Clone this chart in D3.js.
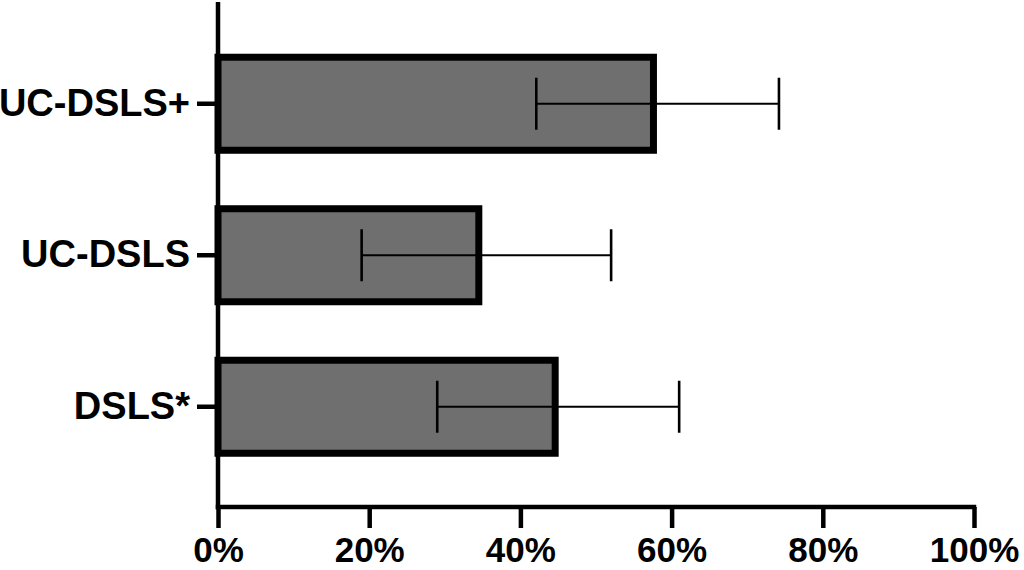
<!DOCTYPE html>
<html><head><meta charset="utf-8">
<script src="https://cdn.jsdelivr.net/npm/d3@7"></script>
<style>
body{margin:0;background:#fff;}
svg{display:block;}
</style></head>
<body>
<svg id="chart" width="1024" height="570"></svg>
<script>
const categories = ["UC-DSLS+", "UC-DSLS", "DSLS*"];
const values = [57.6, 34.5, 44.6];
const errLow = [42.1, 19.0, 29.0];
const errHigh = [74.2, 52.0, 61.0];
const xTicks = [0, 20, 40, 60, 80, 100];

const svg = d3.select("#chart");
const font = "'Liberation Sans', Arial, sans-serif";

const x = d3.scaleLinear().domain([0, 100]).range([218, 974]);
const y = d3.scaleBand().domain(categories).range([28, 482.5])
  .paddingInner(0.386).paddingOuter(0.193);

const data = categories.map((c, i) => ({c, v: values[i], lo: errLow[i], hi: errHigh[i]}));

// bars
svg.append("g").selectAll("rect").data(data).join("rect")
  .attr("x", x(0))
  .attr("y", d => y(d.c))
  .attr("width", d => x(d.v) - x(0))
  .attr("height", y.bandwidth())
  .attr("fill", "#6f6f6f")
  .attr("stroke", "#000")
  .attr("stroke-width", 7);

// error bars
const eg = svg.append("g").attr("stroke", "#000");
data.forEach(d => {
  const cy = y(d.c) + y.bandwidth() / 2;
  eg.append("line").attr("x1", x(d.lo)).attr("x2", x(d.hi)).attr("y1", cy).attr("y2", cy).attr("stroke-width", 2.2);
  eg.append("line").attr("x1", x(d.lo)).attr("x2", x(d.lo)).attr("y1", cy - 26).attr("y2", cy + 26).attr("stroke-width", 2.6);
  eg.append("line").attr("x1", x(d.hi)).attr("x2", x(d.hi)).attr("y1", cy - 26).attr("y2", cy + 26).attr("stroke-width", 2.6);
});

// x axis
const xa = svg.append("g").attr("transform", "translate(0,507)")
  .call(d3.axisBottom(x).tickValues(xTicks).tickFormat(d => d + "%").tickSize(21).tickSizeOuter(0).tickPadding(9));
xa.select(".domain").remove();
xa.selectAll(".tick line").attr("stroke", "#000").attr("stroke-width", 4.5);
xa.selectAll(".tick text").attr("font-family", font).attr("font-weight", "bold").attr("font-size", 35).attr("fill", "#000").attr("dy", "0.71em");

// y axis
const ya = svg.append("g").attr("transform", "translate(218,0)")
  .call(d3.axisLeft(y).tickSize(21).tickSizeOuter(0).tickPadding(7));
ya.select(".domain").remove();
ya.selectAll(".tick line").attr("stroke", "#000").attr("stroke-width", 4.5);
ya.selectAll(".tick text").attr("font-family", font).attr("font-weight", "bold").attr("font-size", 38).attr("fill", "#000");

// axis lines
svg.append("line").attr("x1", 218).attr("x2", 218).attr("y1", 2).attr("y2", 509.25).attr("stroke", "#000").attr("stroke-width", 4.5);
svg.append("line").attr("x1", 215.75).attr("x2", 976.25).attr("y1", 507).attr("y2", 507).attr("stroke", "#000").attr("stroke-width", 4.5);
</script>
</body></html>
